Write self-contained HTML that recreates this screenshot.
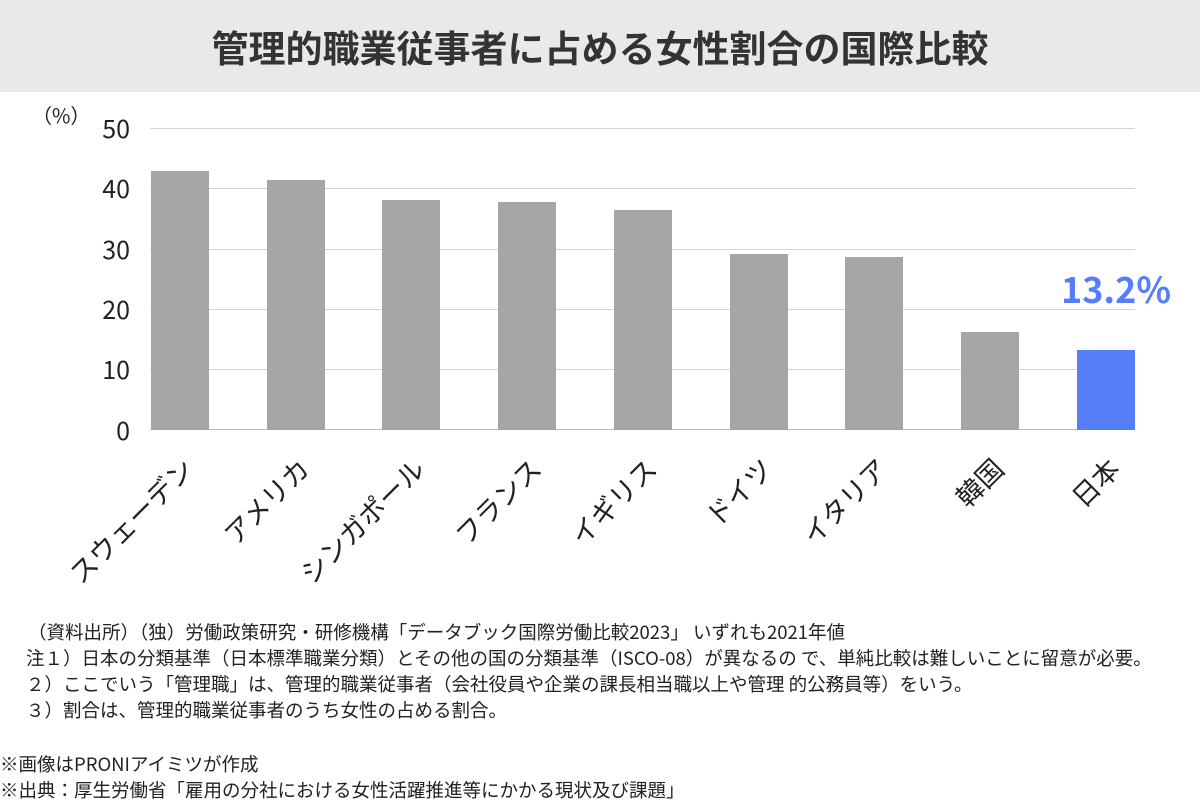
<!DOCTYPE html>
<html><head><meta charset="utf-8"><style>
*{margin:0;padding:0}
body{width:1200px;height:800px;background:#fff;position:relative;overflow:hidden;font-family:"Noto Sans CJK JP","Liberation Sans",sans-serif;color:#222}
.title{position:absolute;left:0;top:0;width:1200px;height:92px;background:#e9e9e9;text-align:center;line-height:92px;font-size:37px;font-weight:bold;color:#333}
.grid{position:absolute;left:150px;width:985px;height:1px;background:#d4d4d4}
.yl{position:absolute;width:130px;left:0;text-align:right;font-size:25px;line-height:24px}
.bar{position:absolute;width:58px;background:#a6a6a6}
.xl{position:absolute;font-size:27px;white-space:nowrap;transform-origin:100% 50%;transform:rotate(-45deg);text-align:right;line-height:30px}
.note{position:absolute;font-size:18.5px;line-height:26px;white-space:nowrap}
</style></head><body>
<div class="title">管理的職業従事者に占める女性割合の国際比較</div>
<div style="position:absolute;left:32px;top:100px;font-size:20px;line-height:30px">（%）</div>
<div class="grid" style="top:128px"></div>
<div class="grid" style="top:188px"></div>
<div class="grid" style="top:249px"></div>
<div class="grid" style="top:309px"></div>
<div class="grid" style="top:369px"></div>
<div class="grid" style="top:429px;background:#bbb"></div>
<div class="yl" style="top:116px">50</div>
<div class="yl" style="top:176px">40</div>
<div class="yl" style="top:237px">30</div>
<div class="yl" style="top:297px">20</div>
<div class="yl" style="top:357px">10</div>
<div class="yl" style="top:418px">0</div>
<div class="bar" style="left:151px;top:171px;height:259px"></div>
<div class="bar" style="left:267px;top:180px;height:250px"></div>
<div class="bar" style="left:382px;top:200px;height:230px"></div>
<div class="bar" style="left:498px;top:202px;height:228px"></div>
<div class="bar" style="left:614px;top:210px;height:220px"></div>
<div class="bar" style="left:730px;top:254px;height:176px"></div>
<div class="bar" style="left:845px;top:257px;height:173px"></div>
<div class="bar" style="left:961px;top:332px;height:98px"></div>
<div class="bar" style="left:1077px;top:350px;height:80px;background:#557ef8"></div>
<div style="position:absolute;left:1054px;top:262px;font-size:36px;font-weight:bold;color:#557ef8;width:124px;text-align:center">13.2%</div>
<div class="xl" style="right:1012px;top:448px">スウェーデン</div>
<div class="xl" style="right:896px;top:448px">アメリカ</div>
<div class="xl" style="right:781px;top:448px">シンガポール</div>
<div class="xl" style="right:665px;top:448px">フランス</div>
<div class="xl" style="right:549px;top:448px">イギリス</div>
<div class="xl" style="right:433px;top:448px">ドイツ</div>
<div class="xl" style="right:318px;top:448px">イタリア</div>
<div class="xl" style="right:202px;top:448px">韓国</div>
<div class="xl" style="right:86px;top:448px">日本</div>
<div class="note" style="left:28px;top:619px">（資料出所）（独）労働政策研究・研修機構「データブック国際労働比較2023」 いずれも2021年値</div>
<div class="note" style="left:26px;top:645px">注１）日本の分類基準（日本標準職業分類）とその他の国の分類基準（ISCO-08）が異なるの で、単純比較は難しいことに留意が必要。</div>
<div class="note" style="left:26px;top:671px">２）ここでいう「管理職」は、管理的職業従事者（会社役員や企業の課長相当職以上や管理 的公務員等）をいう。</div>
<div class="note" style="left:26px;top:697px">３）割合は、管理的職業従事者のうち女性の占める割合。</div>
<div class="note" style="left:0;top:751px">※画像はPRONIアイミツが作成</div>
<div class="note" style="left:0;top:777px">※出典：厚生労働省「雇用の分社における女性活躍推進等にかかる現状及び課題」</div>
</body></html>
